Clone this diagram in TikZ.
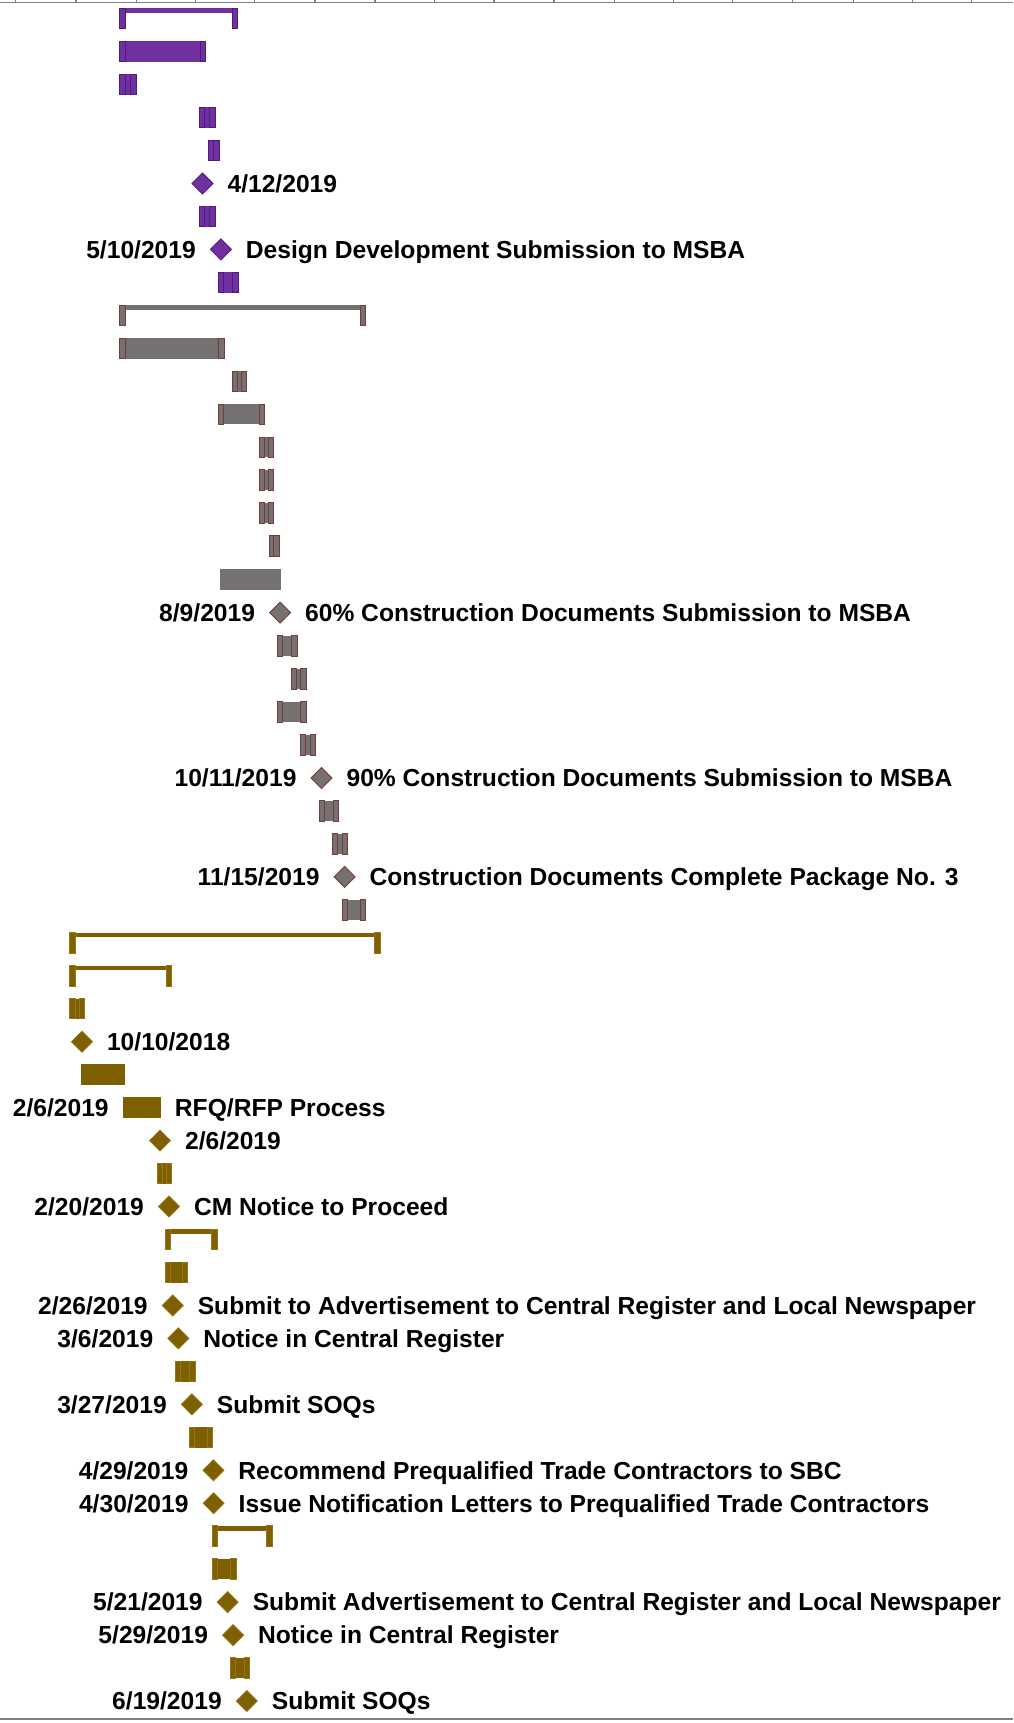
\documentclass[tikz,border=0pt]{standalone}
\usepackage{fontspec}
\setmainfont{Liberation Sans}
\usetikzlibrary{shapes.geometric,positioning}

\definecolor{ddfill}{HTML}{7030A0}
\definecolor{ddline}{HTML}{4E1A7E}
\definecolor{cdfill}{HTML}{767171}
\definecolor{cdline}{HTML}{7A3A3A}
\definecolor{pqfill}{HTML}{7F6000}
\definecolor{pqline}{HTML}{977519}

% task bar: colour prefix, start, end, row
\newcommand{\taskbar}[4]{%
  \fill[#1fill] (#2,#4-9.3) rectangle (#3,#4+9.3);
  \draw[barend=#1] (#2,#4-9.3) rectangle ++(4.8,18.6);
  \draw[barend=#1] (#3,#4-9.3) rectangle ++(-4.8,18.6);}
% summary bracket
\newcommand{\sumbar}[4]{%
  \fill[#1fill] (#2,#4-9.3) rectangle (#3,#4-5);
  \draw[barend=#1] (#2,#4-9.3) rectangle ++(4.8,18.6);
  \draw[barend=#1] (#3,#4-9.3) rectangle ++(-4.8,18.6);}

\begin{document}
\begin{tikzpicture}[x=0.55pt, y=-0.55pt,
  lbl/.style={font=\bfseries\fontsize{12.32}{14}\selectfont, inner sep=0pt, text height=8.8pt, text depth=0pt},
  milestone/.style={diamond, fill=#1fill, draw=#1line, line width=0.4pt, inner sep=0pt, minimum width=10.7pt, minimum height=10.7pt},
  barend/.style={fill=#1fill, draw=#1line, line width=0.5pt},
  node distance=6.8pt]
\useasboundingbox (0,0) rectangle (922,1568);

%%%%%%%%%%%%%%%%%%%%%%%%%%%%%%%%%%%%%%%%%%% time scale
\draw[gray, line width=0.7pt] (0,2.1) -- (922,2.1);
\draw[gray, line width=0.6pt] (14.3,0) -- (14.3,2.1) (69.2,0) -- (69.2,2.1) (124.4,0) -- (124.4,2.1)
  (178.1,0) -- (178.1,2.1) (231.8,0) -- (231.8,2.1) (286.7,0) -- (286.7,2.1) (341.3,0) -- (341.3,2.1)
  (395.3,0) -- (395.3,2.1) (449.6,0) -- (449.6,2.1) (504.2,0) -- (504.2,2.1) (559.1,0) -- (559.1,2.1)
  (612.8,0) -- (612.8,2.1) (666.9,0) -- (666.9,2.1) (721.5,0) -- (721.5,2.1) (776.7,0) -- (776.7,2.1)
  (830.3,0) -- (830.3,2.1) (884,0) -- (884,2.1);
\draw[gray, line width=0.7pt] (0,1564.5) -- (922,1564.5);

%%%%%%%%%%%%%%%%%%%%%%%%%%%%%%%%%%%%%%%%%%% design development
\sumbar{dd}{109.2}{216.3}{17}
\taskbar{dd}{109.2}{186.9}{47}
\taskbar{dd}{109.2}{123.8}{77}
\taskbar{dd}{181.4}{195.7}{107}
\taskbar{dd}{189.9}{199.3}{137}
\node[milestone=dd](dd1) at (184.3,167){};
\node[lbl, right=of dd1]{4/12/2019};
\taskbar{dd}{181.4}{195.7}{197}
\node[milestone=dd](dd2) at (201,227){};
\node[lbl, left=of dd2]{5/10/2019};
\node[lbl, right=of dd2]{Design Development Submission to MSBA};
\taskbar{dd}{198.4}{216.6}{257}

%%%%%%%%%%%%%%%%%%%%%%%%%%%%%%%%%%%%%%%%%%% construction documents
\sumbar{cd}{109.2}{332.8}{287}
\taskbar{cd}{109.2}{203.9}{317}
\taskbar{cd}{211.2}{224.5}{347}
\taskbar{cd}{198.4}{240.9}{377}
\taskbar{cd}{235.7}{249.1}{407}
\taskbar{cd}{235.7}{249.1}{437}
\taskbar{cd}{235.7}{249.1}{467}
\taskbar{cd}{245.7}{253.9}{497}
\fill[cdfill] (200.2,518.2) rectangle (255.8,536.8);
\node[milestone=cd](cd1) at (254.9,557.5){};
\node[lbl, left=of cd1]{8/9/2019};
\node[lbl, right=of cd1]{60\% Construction Documents Submission to MSBA};
\taskbar{cd}{252.7}{270.3}{588}
\taskbar{cd}{264.9}{278.5}{618}
\taskbar{cd}{252.7}{278.5}{648}
\taskbar{cd}{273.1}{287}{678}
\node[milestone=cd](cd2) at (292.6,708){};
\node[lbl, left=of cd2]{10/11/2019};
\node[lbl, right=of cd2]{90\% Construction Documents Submission to MSBA};
\taskbar{cd}{290.3}{307.9}{738}
\taskbar{cd}{302.5}{316.4}{768}
\node[milestone=cd](cd3) at (313.6,798){};
\node[lbl, left=of cd3]{11/15/2019};
\node[lbl, right=of cd3]{Construction Documents Complete Package No. 3};
\taskbar{cd}{311.3}{332.8}{828}

%%%%%%%%%%%%%%%%%%%%%%%%%%%%%%%%%%%%%%%%%%% CM and prequalification
\sumbar{pq}{63.7}{345.9}{858}
\sumbar{pq}{63.7}{156.5}{888}
\taskbar{pq}{63.7}{77.1}{918}
\node[milestone=pq](pq1) at (74.6,948){};
\node[lbl, right=of pq1]{10/10/2018};
\fill[pqfill] (74,968.7) rectangle (113.5,987.3);
\fill[pqfill] (111.6,998.7) rectangle (146.5,1017.3);
\coordinate (rfqw) at (111.6,1008);
\coordinate (rfqe) at (146.5,1008);
\node[lbl, left=of rfqw]{2/6/2019};
\node[lbl, right=of rfqe]{RFQ/RFP Process};
\node[milestone=pq](pq2) at (145.6,1038){};
\node[lbl, right=of pq2]{2/6/2019};
\taskbar{pq}{142.9}{156.5}{1068}
\node[milestone=pq](pq3) at (153.8,1098){};
\node[lbl, left=of pq3]{2/20/2019};
\node[lbl, right=of pq3]{CM Notice to Proceed};
\sumbar{pq}{150.2}{197.5}{1128}
\taskbar{pq}{150.2}{170.5}{1158}
\node[milestone=pq](pq4) at (157.2,1188){};
\node[lbl, left=of pq4]{2/26/2019};
\node[lbl, right=of pq4]{Submit to Advertisement to Central Register and Local Newspaper};
\node[milestone=pq](pq5) at (162.3,1218){};
\node[lbl, left=of pq5]{3/6/2019};
\node[lbl, right=of pq5]{Notice in Central Register};
\taskbar{pq}{159.9}{177.5}{1248}
\node[milestone=pq](pq6) at (174.6,1278){};
\node[lbl, left=of pq6]{3/27/2019};
\node[lbl, right=of pq6]{Submit SOQs};
\taskbar{pq}{172}{193.6}{1308}
\node[milestone=pq](pq7) at (194.2,1338){};
\node[lbl, left=of pq7]{4/29/2019};
\node[lbl, right=of pq7]{Recommend Prequalified Trade Contractors to SBC};
\node[milestone=pq](pq8) at (194.4,1368){};
\node[lbl, left=of pq8]{4/30/2019};
\node[lbl, right=of pq8]{Issue Notification Letters to Prequalified Trade Contractors};
\sumbar{pq}{193}{247.6}{1398}
\taskbar{pq}{193}{214.8}{1428}
\node[milestone=pq](pq9) at (207.2,1458){};
\node[lbl, left=of pq9]{5/21/2019};
\node[lbl, right=of pq9]{Submit Advertisement to Central Register and Local Newspaper};
\node[milestone=pq](pq10) at (212.1,1488){};
\node[lbl, left=of pq10]{5/29/2019};
\node[lbl, right=of pq10]{Notice in Central Register};
\taskbar{pq}{209.6}{227.5}{1518}
\node[milestone=pq](pq11) at (224.6,1548){};
\node[lbl, left=of pq11]{6/19/2019};
\node[lbl, right=of pq11]{Submit SOQs};
\end{tikzpicture}
\end{document}
